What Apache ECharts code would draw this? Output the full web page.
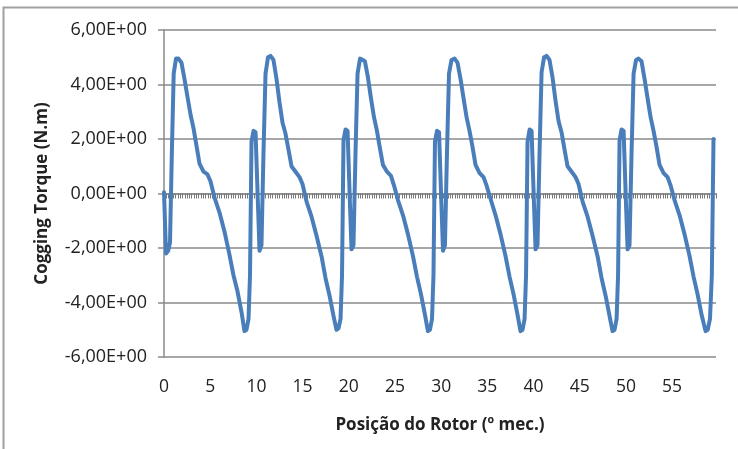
<!DOCTYPE html>
<html>
<head>
<meta charset="utf-8">
<script src="https://cdn.jsdelivr.net/npm/echarts@6/dist/echarts.min.js"></script>
<style>
  html, body { margin: 0; padding: 0; background: #fff; }
  #chart { width: 738px; height: 449px; }
</style>
</head>
<body>
<div id="chart"></div>
<script>
  // posição do rotor (graus mecânicos)
  var rotorPos = [
    0, 0.22, 0.45, 0.65, 0.85, 1.05, 1.3,
    1.57, 1.89, 2.22, 2.54, 2.87, 3.19, 3.52, 3.84, 4.28, 4.71, 5.03, 5.47, 6.01, 6.55, 7.09, 7.52, 7.96, 8.39, 8.71, 8.93, 9.15, 9.31, 9.47, 9.69, 9.91, 10.18, 10.34, 10.55, 10.77, 10.99, 11.26,
    11.53, 11.85, 12.18, 12.5, 12.83, 13.15, 13.48, 13.8, 14.24, 14.67, 14.99, 15.43, 15.97, 16.51, 17.05, 17.48, 17.92, 18.35, 18.67, 18.89, 19.11, 19.27, 19.43, 19.65, 19.87, 20.14, 20.3, 20.51, 20.73, 20.95, 21.22,
    21.43, 21.75, 22.08, 22.4, 22.73, 23.05, 23.38, 23.7, 24.14, 24.57, 24.89, 25.33, 25.87, 26.41, 26.95, 27.38, 27.82, 28.25, 28.57, 28.79, 29.01, 29.17, 29.33, 29.55, 29.77, 30.04, 30.2, 30.41, 30.63, 30.85, 31.12,
    31.45, 31.77, 32.1, 32.42, 32.75, 33.07, 33.4, 33.72, 34.16, 34.59, 34.91, 35.35, 35.89, 36.43, 36.97, 37.4, 37.84, 38.27, 38.59, 38.81, 39.03, 39.19, 39.35, 39.57, 39.79, 40.06, 40.22, 40.43, 40.65, 40.87, 41.14,
    41.41, 41.73, 42.06, 42.38, 42.71, 43.03, 43.36, 43.68, 44.12, 44.55, 44.87, 45.31, 45.85, 46.39, 46.93, 47.36, 47.8, 48.23, 48.55, 48.77, 48.99, 49.15, 49.31, 49.53, 49.75, 50.02, 50.18, 50.39, 50.61, 50.83, 51.1,
    51.37, 51.69, 52.02, 52.34, 52.67, 52.99, 53.32, 53.64, 54.08, 54.51, 54.83, 55.27, 55.81, 56.35, 56.89, 57.32, 57.76, 58.19, 58.62, 58.85, 59.1, 59.3, 59.48
  ];
  // cogging torque (N.m)
  var torque = [
    0.05, -2.2, -2.1, -1.8, 1.5, 4.4, 4.95,
    4.95, 4.8, 4.2, 3.55, 2.9, 2.4, 1.75, 1.1, 0.8, 0.7, 0.45, -0.15, -0.7, -1.4, -2.25, -3.0, -3.6, -4.35, -5.05, -5.0, -4.6, -3.0, 1.9, 2.3, 2.25, -0.5, -2.1, -1.9, 1.5, 4.4, 5.0,
    5.05, 4.9, 4.2, 3.35, 2.6, 2.2, 1.6, 1.0, 0.8, 0.6, 0.35, -0.3, -0.85, -1.55, -2.3, -3.1, -3.75, -4.5, -5.0, -4.95, -4.6, -3.0, 1.95, 2.35, 2.3, -0.5, -2.05, -1.9, 1.5, 4.4, 4.95,
    4.95, 4.85, 4.25, 3.5, 2.8, 2.3, 1.65, 1.05, 0.8, 0.65, 0.3, -0.25, -0.8, -1.5, -2.3, -3.05, -3.7, -4.45, -5.05, -5.0, -4.6, -3.0, 1.9, 2.3, 2.25, -0.5, -2.1, -1.9, 1.5, 4.4, 4.9,
    4.95, 4.8, 4.2, 3.5, 2.8, 2.3, 1.7, 1.05, 0.75, 0.6, 0.3, -0.2, -0.8, -1.5, -2.3, -3.05, -3.7, -4.45, -5.05, -5.0, -4.6, -3.0, 1.9, 2.35, 2.3, -0.5, -2.05, -1.9, 1.5, 4.45, 5.0,
    5.05, 4.9, 4.25, 3.4, 2.65, 2.25, 1.6, 1.0, 0.8, 0.6, 0.35, -0.3, -0.85, -1.55, -2.3, -3.1, -3.75, -4.5, -5.05, -5.0, -4.6, -3.0, 1.95, 2.35, 2.3, -0.5, -2.05, -1.9, 1.5, 4.4, 4.9,
    4.95, 4.85, 4.2, 3.5, 2.8, 2.3, 1.7, 1.05, 0.75, 0.6, 0.3, -0.25, -0.8, -1.5, -2.3, -3.05, -3.7, -4.45, -5.05, -5.0, -4.6, -3.0, 2.0
  ];
  // limites dos eixos
  var xMax = 59.75;      // último ponto da tabela (passo 0,25)
  var xLabelStep = 5;
  var xTickStep = 0.25;
  var yMin = -6, yMax = 6, yStep = 2;

  var points = [];
  rotorPos.forEach(function (x, i) {
    points.push([x, torque[i]]);
  });

  var font = "'Open Sans', 'DejaVu Sans', sans-serif";
  var gray = '#8a8a8a';

  var myChart = echarts.init(document.getElementById('chart'));
  myChart.setOption({
    animation: false,
    grid: { left: 164, right: 22, top: 30, bottom: 92, containLabel: false },
    xAxis: [
      {
        // eixo das legendas (embaixo)
        type: 'value',
        min: 0, max: xMax, interval: xLabelStep,
        position: 'bottom',
        axisLine: { show: false, onZero: false },
        axisTick: { show: false },
        splitLine: { show: false },
        axisLabel: { fontFamily: font, fontSize: 17.5, color: '#222', margin: 21, showMaxLabel: false },
        name: 'Posição do Rotor (º mec.)',
        nameLocation: 'middle',
        nameGap: 60,
        nameTextStyle: { fontFamily: font, fontSize: 17, fontWeight: 'bold', color: '#222' }
      },
      {
        // eixo das categorias cruzando em zero
        type: 'value',
        min: 0, max: xMax, interval: xTickStep,
        position: 'bottom',
        axisLine: { show: true, onZero: true, lineStyle: { color: gray, width: 1.5 } },
        axisTick: { show: true, length: 5, lineStyle: { color: '#7a7a7a', width: 1 } },
        axisLabel: { show: false },
        splitLine: { show: false }
      }
    ],
    yAxis: {
      type: 'value',
      min: yMin, max: yMax, interval: yStep,
      axisLine: { show: true, lineStyle: { color: gray, width: 1.5 } },
      axisTick: { show: true, length: 6, lineStyle: { color: gray, width: 1.5 } },
      splitLine: { show: true, lineStyle: { color: gray, width: 1.5 } },
      axisLabel: {
        fontFamily: font, fontSize: 18, color: '#222', margin: 17,
        formatter: function (v) {
          return v.toFixed(2).replace('.', ',') + 'E+00';
        }
      },
      name: 'Cogging Torque (N.m)',
      nameLocation: 'middle',
      nameGap: 113,
      nameTextStyle: { fontFamily: font, fontSize: 17, fontWeight: 'bold', color: '#222' }
    },
    series: [{
      name: 'Cogging Torque',
      type: 'line',
      xAxisIndex: 0,
      data: points,
      showSymbol: false,
      symbol: 'none',
      lineStyle: { color: '#4a7ebb', width: 4, cap: 'round', join: 'round' },
      z: 5
    }],
    graphic: [{
      type: 'rect',
      shape: { x: 3.5, y: 7.5, width: 760, height: 470 },
      style: { fill: 'none', stroke: '#a0a0a0', lineWidth: 2 },
      silent: true
    }]
  });
</script>
</body>
</html>
